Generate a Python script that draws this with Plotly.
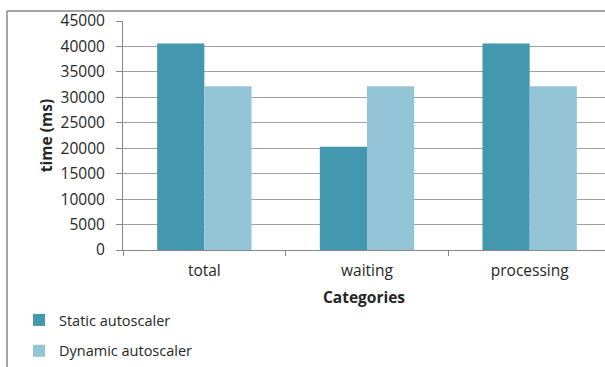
import plotly.graph_objects as go

categories = ["total", "waiting", "processing"]
static_vals = [40600, 20300, 40600]
dynamic_vals = [32200, 32200, 32200]
series_names = ["Static autoscaler", "Dynamic autoscaler"]
colors = ["#4397AE", "#93C5D7"]
y_ticks = list(range(0, 45001, 5000))

W, H = 605, 367
L, R, T, B = 123, 0, 21, 117
pw = W - L - R
ph = H - T - B
bottom_px = H - B

fig = go.Figure()
fig.add_trace(go.Bar(x=categories, y=static_vals, name=series_names[0],
                     marker=dict(color=colors[0], line=dict(width=0)), legendgroup="a"))
fig.add_trace(go.Bar(x=categories, y=dynamic_vals, name=series_names[1],
                     marker=dict(color=colors[1], line=dict(width=0)), legendgroup="b"))

font = "Open Sans, Noto Sans, sans-serif"
fs = 15.5
fig.update_layout(
    width=W, height=H,
    margin=dict(l=L, r=R, t=T, b=B, autoexpand=False),
    paper_bgcolor="white", plot_bgcolor="white",
    barmode="group", bargap=0.42, bargroupgap=0,
    font=dict(family=font, size=fs, color="#262626"),
    showlegend=True,
    legend=dict(x=(19 - L) / pw, y=(bottom_px - 304) / ph, xanchor="left", yanchor="top",
                orientation="v", tracegroupgap=9, font=dict(size=14.5),
                itemwidth=30, bgcolor="rgba(0,0,0,0)"),
    xaxis=dict(
        range=[-0.5, 2.5 - 6 / 162], showline=True, linecolor="#868686", linewidth=1,
        ticks="outside", ticklen=5, tickcolor="#868686", tickson="boundaries",
        showgrid=False, ticklabelstandoff=6,
        title=dict(text="<b>Categories</b>", font=dict(size=fs), standoff=12),
    ),
    yaxis=dict(
        range=[0, 45000], tickvals=y_ticks, showline=True, linecolor="#868686", linewidth=1,
        ticks="outside", ticklen=6, tickcolor="#868686", ticklabelstandoff=8,
        showgrid=True, gridcolor="#A0A0A0", gridwidth=1, zeroline=False,
        title=dict(text="<b>time (ms)</b>", font=dict(size=fs), standoff=4),
        tickformat="d",
    ),
    shapes=[
        dict(type="line", xref="paper", yref="paper",
             x0=(7 - L) / pw, x1=(W + 5 - L) / pw,
             y0=(H - 11 - B) / ph, y1=(H - 11 - B) / ph,
             line=dict(color="#888888", width=1.5)),
        dict(type="line", xref="paper", yref="paper",
             x0=(7 - L) / pw, x1=(7 - L) / pw,
             y0=(H - 11 - B) / ph, y1=-(B + 5) / ph,
             line=dict(color="#888888", width=1.5)),
    ],
)

fig.write_html("out.html")
